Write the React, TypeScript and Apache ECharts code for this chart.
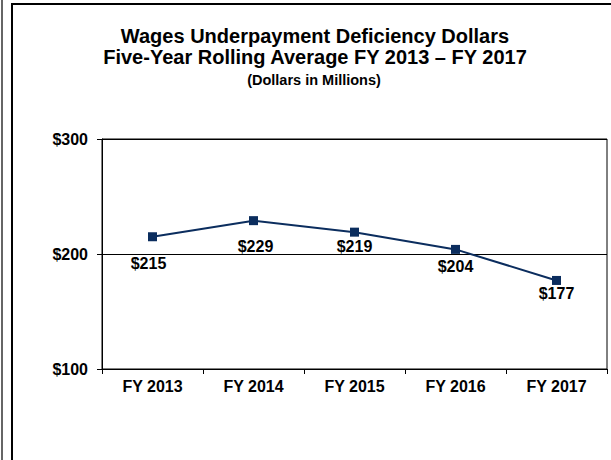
import React, { useEffect, useRef } from "react";
import * as echarts from "echarts";

const categories = ["FY 2013", "FY 2014", "FY 2015", "FY 2016", "FY 2017"];
const values = [215, 229, 219, 204, 177];
const labelOffsets = [[-4, 9], [2, 8], [0, -3], [0, 0], [0, -4]];
const titleLines = [
  "Wages Underpayment Deficiency Dollars",
  "Five-Year Rolling Average FY 2013 \u2013 FY 2017",
];
const subtitle = "(Dollars in Millions)";

const FONT = "'Liberation Sans', Arial, sans-serif";
const NAVY = "#0b2d5e";

export default function App() {
  const ref = useRef<HTMLDivElement>(null);
  useEffect(() => {
    if (!ref.current) return;
    const chart = echarts.init(ref.current, undefined, { renderer: "svg" });
    chart.setOption({
      animation: false,
      backgroundColor: "#fff",
      textStyle: { fontFamily: FONT },
      graphic: [
        { type: "rect", shape: { x: 1, y: 0, width: 2, height: 460 }, style: { fill: "#666" } },
        { type: "rect", shape: { x: 11, y: 3, width: 2, height: 457 }, style: { fill: "#000" } },
        { type: "rect", shape: { x: 11, y: 3, width: 600, height: 2 }, style: { fill: "#000" } },
        {
          type: "text", x: 315, y: 36,
          style: { text: titleLines[0], font: `bold 20px ${FONT}`, fill: "#000", textAlign: "center", textVerticalAlign: "middle" },
        },
        {
          type: "text", x: 315, y: 57,
          style: { text: titleLines[1], font: `bold 20px ${FONT}`, fill: "#000", textAlign: "center", textVerticalAlign: "middle" },
        },
        {
          type: "text", x: 314, y: 80,
          style: { text: subtitle, font: `bold 14.5px ${FONT}`, fill: "#000", textAlign: "center", textVerticalAlign: "middle" },
        },
      ],
      grid: {
        left: 102, right: 4, top: 139, bottom: 91,
        show: true, borderColor: "#000", borderWidth: 1, backgroundColor: "transparent",
      },
      xAxis: {
        type: "category",
        data: categories,
        boundaryGap: true,
        axisLine: { lineStyle: { color: "#000", width: 1 } },
        axisTick: { show: true, length: 5, lineStyle: { color: "#000" } },
        axisLabel: { color: "#000", fontWeight: "bold", fontSize: 16, margin: 9, fontFamily: FONT },
        splitLine: { show: false },
      },
      yAxis: {
        type: "value",
        min: 100, max: 300, interval: 100,
        axisLine: { show: true, lineStyle: { color: "#000", width: 1 } },
        axisTick: { show: true, length: 5, lineStyle: { color: "#000" } },
        axisLabel: { color: "#000", fontWeight: "bold", fontSize: 16, margin: 14, fontFamily: FONT, formatter: (v: number) => "$" + v },
        splitLine: { show: true, lineStyle: { color: "#000", width: 1 } },
      },
      series: [
        {
          type: "line",
          data: values.map((v, i) => ({
            value: v,
            label: { offset: labelOffsets[i] },
          })),
          symbol: "rect",
          symbolSize: 9,
          lineStyle: { color: NAVY, width: 2 },
          itemStyle: { color: NAVY },
          label: {
            show: true, position: "bottom", distance: 5,
            color: "#000", fontWeight: "bold", fontSize: 16, fontFamily: FONT,
            formatter: (p: any) => "$" + p.value,
          },
        },
      ],
    });
    return () => chart.dispose();
  }, []);
  return (
    <div
      ref={ref}
      style={{ position: "absolute", left: 0, top: 0, width: 611, height: 460 }}
    />
  );
}
